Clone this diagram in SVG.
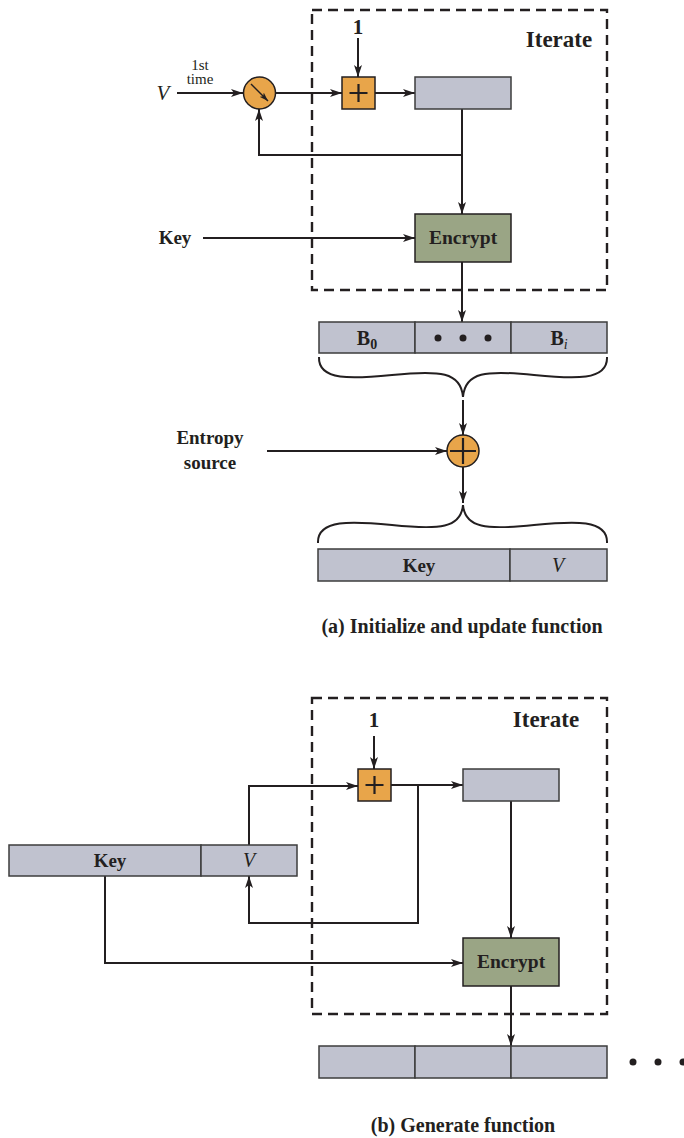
<svg xmlns="http://www.w3.org/2000/svg" width="684" height="1138" viewBox="0 0 684 1138">
<defs>
<marker id="ah" viewBox="0 0 12 8" refX="12" refY="4" markerWidth="12" markerHeight="8" markerUnits="userSpaceOnUse" orient="auto">
<path d="M0,0 L12,4 L0,8 L3,4 z" fill="#231f20"/>
</marker>
<marker id="ahs" viewBox="0 0 12 8" refX="12" refY="4" markerWidth="9" markerHeight="6" markerUnits="userSpaceOnUse" orient="auto">
<path d="M0,0 L12,4 L0,8 L3,4 z" fill="#231f20"/>
</marker>
<style>
.t{font-family:"Liberation Serif","Times New Roman",serif;fill:#231f20}
.b{font-weight:bold}
.i{font-style:italic}
.ln{fill:none;stroke:#231f20;stroke-width:2}
.ar{fill:none;stroke:#231f20;stroke-width:2;marker-end:url(#ah)}
.dash{fill:none;stroke:#231f20;stroke-width:2.4;stroke-dasharray:10,6}
.reg{fill:#c0c2cf;stroke:#3d3d3d;stroke-width:1.5}
.enc{fill:#9aa585;stroke:#231f20;stroke-width:1.5}
.org{fill:#e8a54a;stroke:#231f20;stroke-width:1.5}
</style>
</defs>

<!-- ===== (a) ===== -->
<g id="iterate-a">
<rect x="312" y="10" width="295" height="280" class="dash"/>
<text x="559" y="47" class="t b" font-size="23" text-anchor="middle">Iterate</text>
</g>

<g id="connectors-a">
<line x1="177" y1="93" x2="243" y2="93" class="ar"/>
<line x1="276" y1="93" x2="342" y2="93" class="ar"/>
<line x1="358" y1="38" x2="358" y2="77" class="ar"/>
<line x1="375" y1="93" x2="415" y2="93" class="ar"/>
<polyline points="462,109 462,155 259,155 259,109" class="ar"/>
<line x1="462" y1="155" x2="462" y2="214" class="ar"/>
<line x1="203" y1="238" x2="415" y2="238" class="ar"/>
<line x1="462" y1="262" x2="462" y2="322" class="ar"/>
<line x1="463" y1="400" x2="463" y2="435" class="ar"/>
<line x1="267" y1="451" x2="447" y2="451" class="ar"/>
<line x1="463" y1="467" x2="463" y2="503" class="ar"/>
<path d="M319,357 C318,381 352,379 392,375 C440,370 461,372 463,397" class="ln"/>
<path d="M607,357 C608,381 574,379 534,375 C486,370 465,372 463,397" class="ln"/>
<path d="M318,543 C317,519 352,521 392,525 C440,530 461,528 463,505" class="ln"/>
<path d="M607,543 C608,519 574,521 534,525 C486,530 465,528 463,505" class="ln"/>
</g>

<g id="v-input-a">
<text x="163" y="100" class="t i" font-size="21" text-anchor="middle">V</text>
<text x="200" y="70" class="t" font-size="15" text-anchor="middle">1st</text>
<text x="200" y="84" class="t" font-size="15" text-anchor="middle">time</text>
</g>

<g id="switch-a">
<circle cx="259.5" cy="93" r="16" class="org"/>
<line x1="251" y1="84" x2="268" y2="101" stroke="#231f20" stroke-width="1.5" marker-end="url(#ahs)"/>
</g>

<g id="one-a">
<text x="358" y="34" class="t b" font-size="21" text-anchor="middle">1</text>
</g>

<g id="add-a">
<rect x="342" y="77" width="33" height="32" class="org"/>
<path d="M358.5,84 V102 M349.5,93 H367.5" stroke="#231f20" stroke-width="2.2"/>
</g>

<g id="reg-a">
<rect x="415" y="77" width="96" height="32" class="reg"/>
</g>

<g id="key-a">
<text x="175" y="244" class="t b" font-size="19" text-anchor="middle">Key</text>
</g>

<g id="encrypt-a">
<rect x="415" y="214" width="96" height="48" class="enc"/>
<text x="463" y="244" class="t b" font-size="19.5" text-anchor="middle">Encrypt</text>
</g>

<g id="blocks-a">
<rect x="319" y="322" width="96" height="31" class="reg"/>
<rect x="415" y="322" width="96" height="31" class="reg"/>
<rect x="511" y="322" width="96" height="31" class="reg"/>
<text x="367" y="345" class="t b" font-size="20" text-anchor="middle">B<tspan font-size="14" dy="4">0</tspan></text>
<circle cx="438" cy="338" r="3.5" fill="#231f20"/>
<circle cx="463" cy="338" r="3.5" fill="#231f20"/>
<circle cx="488" cy="338" r="3.5" fill="#231f20"/>
<text x="559" y="345" class="t b" font-size="20" text-anchor="middle">B<tspan class="i" font-weight="normal" font-size="14" dy="4">i</tspan></text>
</g>

<g id="entropy-a">
<text x="210" y="444" class="t b" font-size="19" text-anchor="middle">Entropy</text>
<text x="210" y="469" class="t b" font-size="19" text-anchor="middle">source</text>
</g>

<g id="xor-a">
<circle cx="463" cy="451" r="16" class="org"/>
<path d="M463,438 V464 M450,451 H476" stroke="#231f20" stroke-width="2.2"/>
</g>

<g id="keyv-a">
<rect x="318" y="549" width="192" height="32" class="reg"/>
<rect x="510" y="549" width="97" height="32" class="reg"/>
<text x="419" y="572" class="t b" font-size="19" text-anchor="middle">Key</text>
<text x="558" y="572" class="t i" font-size="20" text-anchor="middle">V</text>
</g>

<g id="caption-a">
<text x="462" y="633" class="t b" font-size="20" text-anchor="middle">(a) Initialize and update function</text>
</g>

<!-- ===== (b) ===== -->
<g id="iterate-b">
<rect x="312" y="698" width="295" height="316" class="dash"/>
<text x="546" y="727" class="t b" font-size="23" text-anchor="middle">Iterate</text>
</g>

<g id="connectors-b">
<line x1="374" y1="736" x2="374" y2="769" class="ar"/>
<line x1="391" y1="785" x2="463" y2="785" class="ar"/>
<polyline points="249,845 249,786 358,786" class="ar"/>
<polyline points="418,785 418,923 249,923 249,876" class="ar"/>
<polyline points="105,876 105,963 463,963" class="ar"/>
<line x1="511" y1="801" x2="511" y2="938" class="ar"/>
<line x1="511" y1="986" x2="511" y2="1046" class="ar"/>
</g>

<g id="one-b">
<text x="374" y="727" class="t b" font-size="21" text-anchor="middle">1</text>
</g>

<g id="add-b">
<rect x="358" y="769" width="33" height="32" class="org"/>
<path d="M374.5,776 V794 M365.5,785 H383.5" stroke="#231f20" stroke-width="2.2"/>
</g>

<g id="reg-b">
<rect x="463" y="769" width="96" height="32" class="reg"/>
</g>

<g id="keyv-b">
<rect x="9" y="845" width="192" height="31" class="reg"/>
<rect x="201" y="845" width="96" height="31" class="reg"/>
<text x="110" y="867" class="t b" font-size="19" text-anchor="middle">Key</text>
<text x="249" y="867" class="t i" font-size="20" text-anchor="middle">V</text>
</g>

<g id="encrypt-b">
<rect x="463" y="938" width="96" height="48" class="enc"/>
<text x="511" y="968" class="t b" font-size="19.5" text-anchor="middle">Encrypt</text>
</g>

<g id="output-b">
<rect x="319" y="1046" width="96" height="32" class="reg"/>
<rect x="415" y="1046" width="96" height="32" class="reg"/>
<rect x="511" y="1046" width="96" height="32" class="reg"/>
<circle cx="633" cy="1062" r="3.5" fill="#231f20"/>
<circle cx="658" cy="1062" r="3.5" fill="#231f20"/>
<circle cx="683" cy="1062" r="3.5" fill="#231f20"/>
</g>

<g id="caption-b">
<text x="463" y="1132" class="t b" font-size="20" text-anchor="middle">(b) Generate function</text>
</g>
</svg>
